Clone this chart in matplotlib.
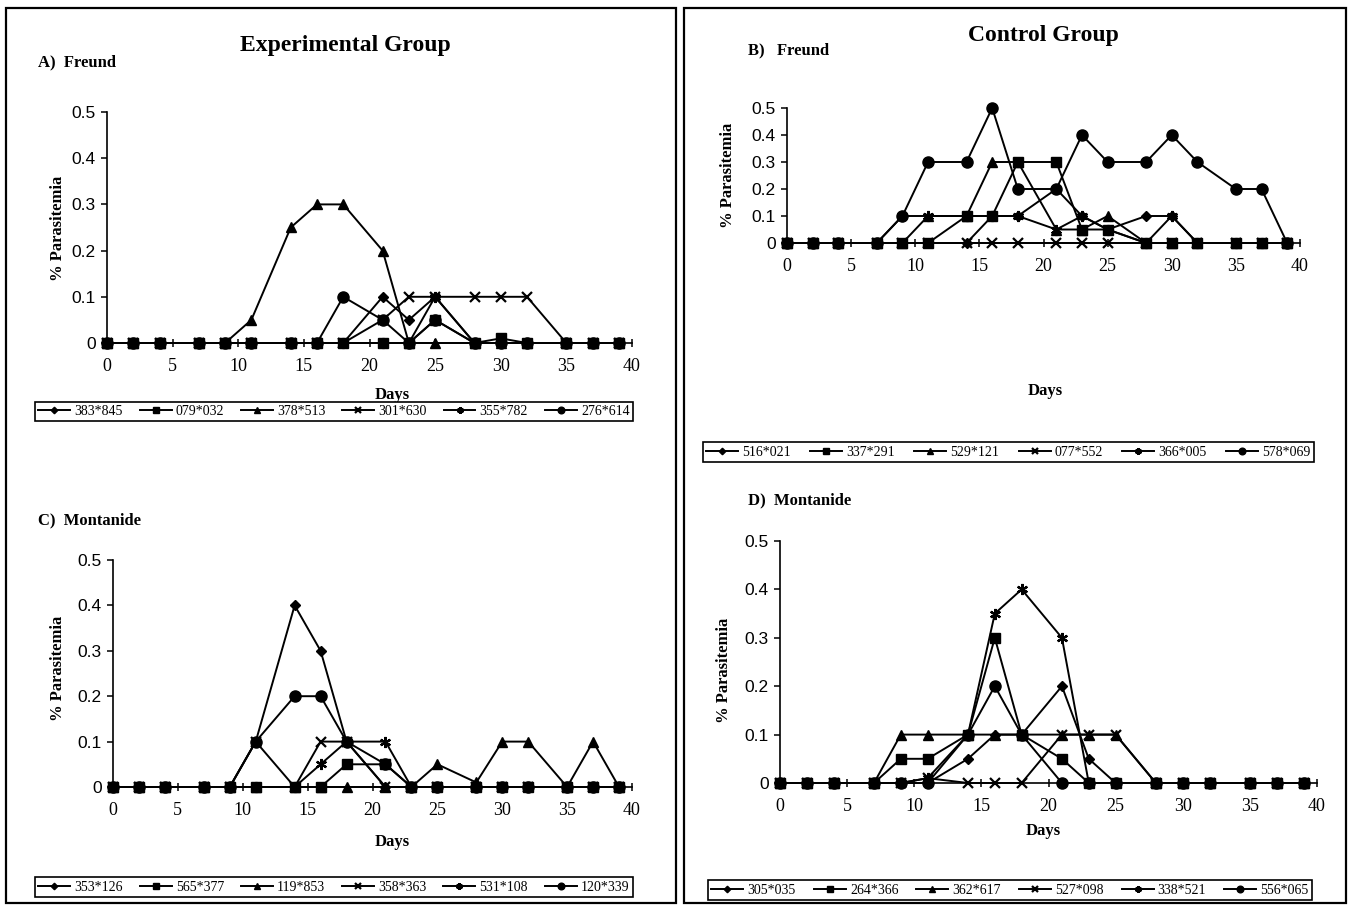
import numpy as np
import matplotlib
matplotlib.use('Agg')
import matplotlib.pyplot as plt
from matplotlib.patches import Rectangle

W, H = 1349, 905

#%% data
days = [0, 2, 4, 7, 9, 11, 14, 16, 18, 21, 23, 25, 28, 30, 32, 35, 37, 39]

# A) experimental group - Freund
labels_a = ['383*845', '079*032', '378*513', '301*630', '355*782', '276*614']
a_383_845 = [0, 0, 0, 0, 0, 0, 0, 0, 0, 0.1, 0.05, 0.1, 0, 0, 0, 0, 0, 0]
a_079_032 = [0, 0, 0, 0, 0, 0, 0, 0, 0, 0, 0, 0.05, 0, 0.01, 0, 0, 0, 0]
a_378_513 = [0, 0, 0, 0, 0, 0.05, 0.25, 0.3, 0.3, 0.2, 0, 0, 0, 0, 0, 0, 0, 0]
a_301_630 = [0, 0, 0, 0, 0, 0, 0, 0, 0, 0.05, 0.1, 0.1, 0.1, 0.1, 0.1, 0, 0, 0]
a_355_782 = [0, 0, 0, 0, 0, 0, 0, 0, 0, 0, 0, 0.1, 0, 0, 0, 0, 0, 0]
a_276_614 = [0, 0, 0, 0, 0, 0, 0, 0, 0.1, 0.05, 0, 0.05, 0, 0, 0, 0, 0, 0]

# B) control group - Freund
labels_b = ['516*021', '337*291', '529*121', '077*552', '366*005', '578*069']
b_516_021 = [0, 0, 0, 0, 0, 0, 0, 0.1, 0.1, 0.2, 0.1, 0.05, 0.1, 0.1, 0, 0, 0, 0]
b_337_291 = [0, 0, 0, 0, 0, 0, 0.1, 0.1, 0.3, 0.3, 0.05, 0.05, 0, 0, 0, 0, 0, 0]
b_529_121 = [0, 0, 0, 0, 0, 0.1, 0.1, 0.3, 0.3, 0.05, 0.05, 0.1, 0, 0, 0, 0, 0, 0]
b_077_552 = [0, 0, 0, 0, 0, 0, 0, 0, 0, 0, 0, 0, 0, 0, 0, 0, 0, 0]
b_366_005 = [0, 0, 0, 0, 0.1, 0.1, 0.1, 0.1, 0.1, 0.05, 0.1, 0.05, 0, 0.1, 0, 0, 0, 0]
b_578_069 = [0, 0, 0, 0, 0.1, 0.3, 0.3, 0.5, 0.2, 0.2, 0.4, 0.3, 0.3, 0.4, 0.3, 0.2, 0.2, 0]

# C) experimental group - Montanide
labels_c = ['353*126', '565*377', '119*853', '358*363', '531*108', '120*339']
c_353_126 = [0, 0, 0, 0, 0, 0.1, 0.4, 0.3, 0.1, 0, 0, 0, 0, 0, 0, 0, 0, 0]
c_565_377 = [0, 0, 0, 0, 0, 0, 0, 0, 0.05, 0.05, 0, 0, 0, 0, 0, 0, 0, 0]
c_119_853 = [0, 0, 0, 0, 0, 0, 0, 0, 0, 0, 0, 0.05, 0.01, 0.1, 0.1, 0, 0.1, 0]
c_358_363 = [0, 0, 0, 0, 0, 0.1, 0, 0.1, 0.1, 0, 0, 0, 0, 0, 0, 0, 0, 0]
c_531_108 = [0, 0, 0, 0, 0, 0, 0, 0.05, 0.1, 0.1, 0, 0, 0, 0, 0, 0, 0, 0]
c_120_339 = [0, 0, 0, 0, 0, 0.1, 0.2, 0.2, 0.1, 0.05, 0, 0, 0, 0, 0, 0, 0, 0]

# D) control group - Montanide
labels_d = ['305*035', '264*366', '362*617', '527*098', '338*521', '556*065']
d_305_035 = [0, 0, 0, 0, 0, 0, 0.05, 0.1, 0.1, 0.2, 0.05, 0, 0, 0, 0, 0, 0, 0]
d_264_366 = [0, 0, 0, 0, 0.05, 0.05, 0.1, 0.3, 0.1, 0.05, 0, 0, 0, 0, 0, 0, 0, 0]
d_362_617 = [0, 0, 0, 0, 0.1, 0.1, 0.1, 0.1, 0.1, 0.1, 0.1, 0.1, 0, 0, 0, 0, 0, 0]
d_527_098 = [0, 0, 0, 0, 0, 0.01, 0, 0, 0, 0.1, 0.1, 0.1, 0, 0, 0, 0, 0, 0]
d_338_521 = [0, 0, 0, 0, 0, 0.01, 0.1, 0.35, 0.4, 0.3, 0, 0, 0, 0, 0, 0, 0, 0]
d_556_065 = [0, 0, 0, 0, 0, 0, 0.1, 0.2, 0.1, 0, 0, 0, 0, 0, 0, 0, 0, 0]

#%% styles (excel-ish markers)
markers = ['D', 's', '^', 'x', (6, 2, 0), 'o']
msizes = [5.5, 7.5, 7, 7, 8, 8]
zorders = [2.1, 2.9, 2.2, 2.3, 2.4, 2.5]  # squares sit on top like in the scan

serif = 'Liberation Serif'
sans = 'Liberation Sans'


def fx(px):
    return px / W


def fy(py):
    return 1 - py / H


def make_panel(fig, box, series, labels, leg_box):
    left, right, top, bottom = box
    ax = fig.add_axes([fx(left), fy(bottom), (right - left) / W, (bottom - top) / H])
    handles = []
    for vals, m, ms, z in zip(series, markers, msizes, zorders):
        ln, = ax.plot(days, vals, color='black', lw=1.4, marker=m, ms=ms,
                      mew=1.6 if m in ('x', (6, 2, 0)) else 1, mfc='black', mec='black',
                      clip_on=False, zorder=z)
        handles.append(ln)
    ax.set_xlim(0, 40)
    ax.set_ylim(0, 0.5)
    ax.set_xticks([0, 5, 10, 15, 20, 25, 30, 35, 40])
    ax.set_yticks([0, 0.1, 0.2, 0.3, 0.4, 0.5])
    ax.set_yticklabels(['0', '0.1', '0.2', '0.3', '0.4', '0.5'])
    for s in ['top', 'right']:
        ax.spines[s].set_visible(False)
    for s in ['left', 'bottom']:
        ax.spines[s].set_linewidth(1.2)
    ax.tick_params(axis='x', direction='inout', length=6, width=1.1, pad=8, labelsize=13)
    ax.tick_params(axis='y', direction='out', length=4, width=1.1, pad=4, labelsize=12.5)
    for t in ax.get_xticklabels():
        t.set_fontfamily(serif)
    for t in ax.get_yticklabels():
        t.set_fontfamily(sans)

    x0, x1, y0, y1 = leg_box
    leg = fig.legend(handles, labels, loc='center',
                     bbox_to_anchor=(fx(x0), fy(y1), (x1 - x0) / W, (y1 - y0) / H),
                     mode='expand', ncol=6, frameon=True, fancybox=False,
                     edgecolor='black', framealpha=1, borderpad=0.25,
                     handlelength=2.3, handletextpad=0.3, columnspacing=0.6,
                     markerscale=0.6, borderaxespad=0,
                     prop={'family': serif, 'size': 10})
    leg.get_frame().set_linewidth(1.2)
    return ax


#%% figure
fig = plt.figure(figsize=(W / 100, H / 100), dpi=100)

# outer frames
fig.patches.append(Rectangle((fx(6), fy(903)), (676 - 6) / W, (903 - 8) / H,
                             transform=fig.transFigure, fill=False, lw=1.6, ec='black'))
fig.patches.append(Rectangle((fx(684), fy(903)), (1346 - 684) / W, (903 - 8) / H,
                             transform=fig.transFigure, fill=False, lw=1.6, ec='black'))

make_panel(fig, (107, 632, 112, 343),
           [a_383_845, a_079_032, a_378_513, a_301_630, a_355_782, a_276_614],
           labels_a, (35, 633, 401, 422))
make_panel(fig, (787, 1300, 108, 243),
           [b_516_021, b_337_291, b_529_121, b_077_552, b_366_005, b_578_069],
           labels_b, (703, 1314, 441, 463))
make_panel(fig, (113, 632, 560, 787),
           [c_353_126, c_565_377, c_119_853, c_358_363, c_531_108, c_120_339],
           labels_c, (35, 633, 876, 898))
make_panel(fig, (780, 1317, 541, 783),
           [d_305_035, d_264_366, d_362_617, d_527_098, d_338_521, d_556_065],
           labels_d, (708, 1312, 879, 901))

# titles and labels
fig.text(fx(345), fy(45), 'Experimental Group', ha='center', va='center',
         family=serif, weight='bold', size=17)
fig.text(fx(1043), fy(35), 'Control Group', ha='center', va='center',
         family=serif, weight='bold', size=17)
fig.text(fx(38), fy(62), 'A)  Freund', ha='left', va='center',
         family=serif, weight='bold', size=12)
fig.text(fx(748), fy(50), 'B)   Freund', ha='left', va='center',
         family=serif, weight='bold', size=12)
fig.text(fx(38), fy(520), 'C)  Montanide', ha='left', va='center',
         family=serif, weight='bold', size=12)
fig.text(fx(748), fy(500), 'D)  Montanide', ha='left', va='center',
         family=serif, weight='bold', size=12)

for (x, y) in [(392, 395), (1045, 391), (392, 842), (1043, 831)]:
    fig.text(fx(x), fy(y), 'Days', ha='center', va='center',
             family=serif, weight='bold', size=12)
for (x, y) in [(58, 228), (728, 175), (58, 668), (724, 670)]:
    fig.text(fx(x), fy(y), '% Parasitemia', ha='center', va='center', rotation=90,
             family=serif, weight='bold', size=12)

plt.savefig('out.png', dpi=100)
